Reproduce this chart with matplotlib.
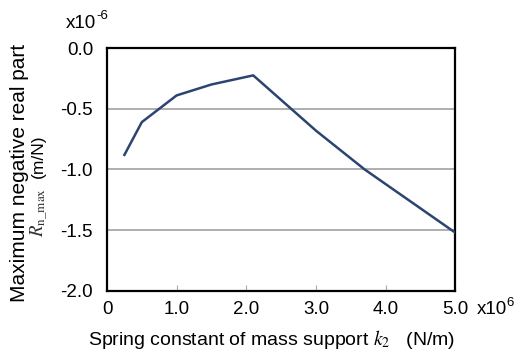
import matplotlib.pyplot as plt

plt.rcParams['font.family'] = ['Liberation Sans', 'DejaVu Sans']
plt.rcParams['mathtext.fontset'] = 'stix'

# datos
k2 = [0.25, 0.5, 1.0, 1.5, 2.1, 3.0, 3.7, 5.0]
r_max = [-0.88, -0.61, -0.39, -0.30, -0.225, -0.68, -1.0, -1.52]

x_ticks = [0, 1.0, 2.0, 3.0, 4.0, 5.0]
x_labels = ['0', '1.0', '2.0', '3.0', '4.0', '5.0']
y_ticks = [0.0, -0.5, -1.0, -1.5, -2.0]
y_labels = ['0.0', '-0.5', '-1.0', '-1.5', '-2.0']

fig = plt.figure(figsize=(5.22, 3.56), dpi=100)
ax = fig.add_axes([0.205, 0.183, 0.667, 0.682])

# lineas de la cuadricula
for y in [-0.5, -1.0, -1.5]:
    ax.axhline(y, color='#a8a8a8', lw=1.3, zorder=1)

ax.plot(k2, r_max, color='#2c4470', lw=1.8, zorder=3)

ax.set_xlim(0, 5.0)
ax.set_ylim(-2.0, 0.0)
ax.set_xticks(x_ticks)
ax.set_xticklabels(x_labels, fontsize=13.5)
ax.set_yticks(y_ticks)
ax.set_yticklabels(y_labels, fontsize=13.5)
ax.tick_params(axis='x', direction='in', length=4, color='#a8a8a8', pad=7)
ax.tick_params(axis='y', length=0, pad=10)
for s in ax.spines.values():
    s.set_linewidth(1.6)

# factores de escala
fig.text(0.126, 0.935, 'x10', fontsize=13.5, ha='left', va='center')
fig.text(0.184, 0.955, '-6', fontsize=9.5, ha='left', va='center')
fig.text(0.914, 0.13, 'x10', fontsize=13.5, ha='left', va='center')
fig.text(0.970, 0.15, '6', fontsize=9.5, ha='left', va='center')

fig.text(0.52, 0.045, 'Spring constant of mass support $k_2$   (N/m)',
         fontsize=14, ha='center', va='center')
fig.text(0.038, 0.514, 'Maximum negative real part', fontsize=15,
         rotation=90, ha='center', va='center')
fig.text(0.075, 0.402, r'$R_{\mathrm{n\_max}}$', fontsize=13.5,
         rotation=90, ha='center', va='center', color='#333333')
fig.text(0.073, 0.562, '(m/N)', fontsize=12.5,
         rotation=90, ha='center', va='center')

fig.savefig('out.png', dpi=100)
